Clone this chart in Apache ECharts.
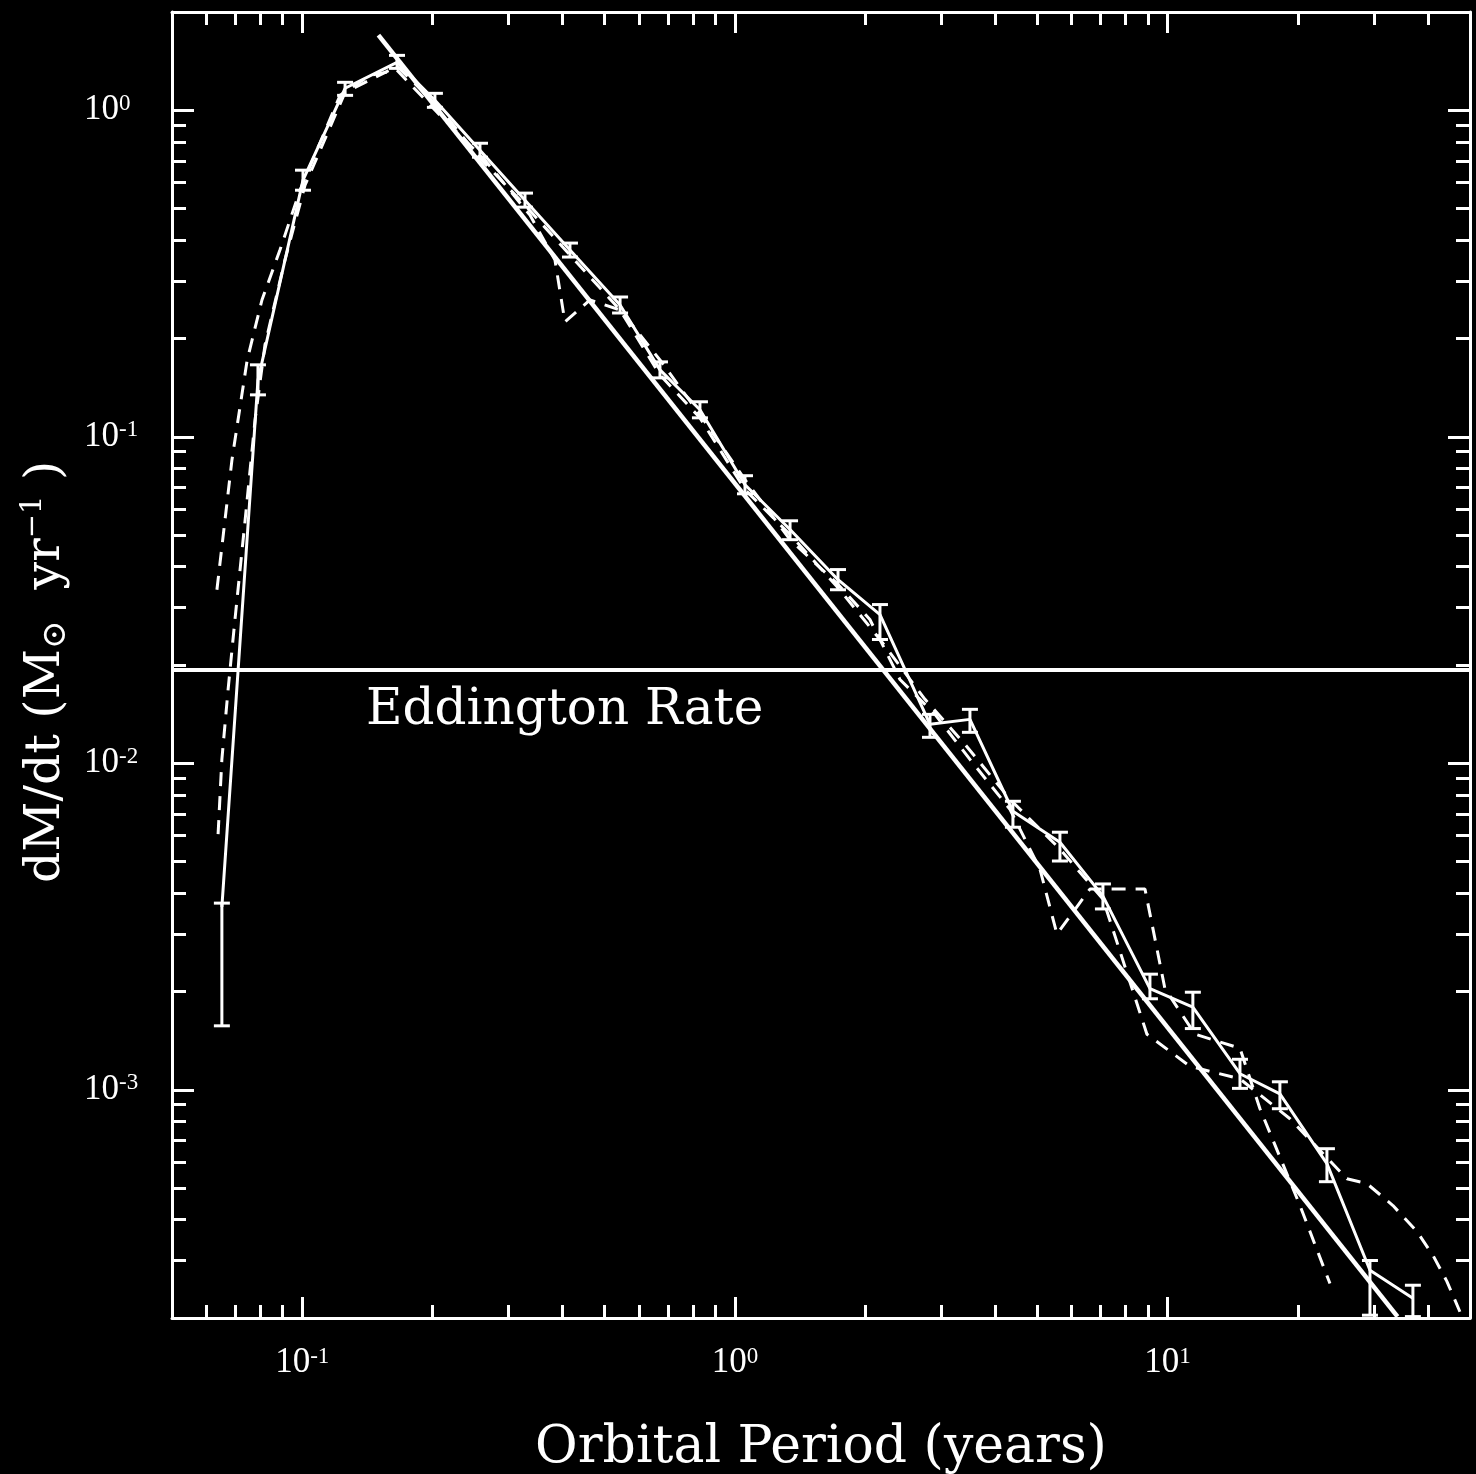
<!DOCTYPE html>
<html><head><meta charset="utf-8">
<script src="https://cdn.jsdelivr.net/npm/echarts@6/dist/echarts.min.js"></script>
<style>html,body{margin:0;padding:0;background:#000}#c{width:1476px;height:1474px}</style>
</head><body><div id="c"></div>
<script>
// ---- axis ranges & ticks ----
const xRange = [0.05, 50];
const yRange = [0.0002, 2];
const xMajorTicks = [0.1, 1, 10];
const xMinorTicks = [0.06,0.07,0.08,0.09,0.2,0.3,0.4,0.5,0.6,0.7,0.8,0.9,2,3,4,5,6,7,8,9,20,30,40];
const yMajorTicks = [0.001, 0.01, 0.1, 1];
const yMinorTicks = [0.0003,0.0004,0.0005,0.0006,0.0007,0.0008,0.0009,
  0.002,0.003,0.004,0.005,0.006,0.007,0.008,0.009,
  0.02,0.03,0.04,0.05,0.06,0.07,0.08,0.09,
  0.2,0.3,0.4,0.5,0.6,0.7,0.8,0.9];

// ---- Eddington rate ----
const eddingtonRate = 0.0193;

// ---- main run (solid, with error bars) ----
const s1Period = [0.0652,0.0790,0.1004,0.1256,0.1656,0.2026,0.2575,0.3272,0.4157,0.5427,0.6711,0.8302,1.055,1.341,1.731,2.164,2.824,3.493,4.391,5.639,7.089,9.104,11.44,14.70,18.18,23.35,29.36,36.90];
const s1Rate   = [0.00363,0.149,0.611,1.168,1.402,1.073,0.7545,0.5306,0.3731,0.2533,0.1603,0.121,0.0713,0.0520,0.0365,0.02855,0.01316,0.01363,0.00713,0.00573,0.00392,0.00204,0.00179,0.00112,0.000972,0.000594,0.000280,0.000230];
const s1Low    = [0.00157,0.1344,0.5691,1.111,1.344,1.021,0.7183,0.505,0.3552,0.2394,0.1515,0.1143,0.0669,0.0484,0.0340,0.02394,0.01201,0.01244,0.00637,0.00502,0.00358,0.00190,0.00154,0.00101,0.000875,0.000523,0.000204,0.000202];
const s1High   = [0.00373,0.1661,0.6555,1.218,1.473,1.127,0.7926,0.5576,0.392,0.268,0.1696,0.128,0.0760,0.0553,0.0392,0.03063,0.01412,0.01463,0.00765,0.00615,0.00427,0.00226,0.00199,0.00124,0.001058,0.000660,0.000300,0.000252];

// ---- dashed run 1 ----
const d1Period = [0.0635,0.0688,0.0746,0.0807,0.0888,0.0988,0.1223,0.1434,0.1656,0.2082,0.2645,0.3360,0.3838,0.4047,0.4624,0.5427,0.6711,0.8302,1.055,1.341,1.731,2.051,2.407,2.900,3.493,4.322,5.070,5.550,6.616,8.866,9.861,11.57,14.70,16.35,20.23,23.73];
const d1Rate   = [0.0340,0.0851,0.1719,0.2624,0.3731,0.5691,1.111,1.280,1.326,0.9654,0.7032,0.4776,0.3478,0.2247,0.2624,0.2445,0.1719,0.1168,0.0739,0.0484,0.0353,0.02756,0.01806,0.01412,0.01028,0.00723,0.00474,0.00300,0.00412,0.00412,0.00204,0.00148,0.00134,0.000875,0.000442,0.000255];

// ---- dashed run 2 ----
const d2Period = [0.0639,0.0652,0.0674,0.0699,0.0738,0.0778,0.0820,0.0912,0.1015,0.1256,0.1656,0.2082,0.2575,0.3272,0.4157,0.5427,0.6711,0.8302,1.055,1.341,1.731,2.164,2.750,3.402,4.322,5.639,7.089,8.960,11.26,14.70,19.18,25.97,28.89,33.18,37.70,41.06,44.21,47.39];
const d2Rate   = [0.00607,0.01028,0.01684,0.02756,0.0557,0.1127,0.1911,0.3478,0.5898,1.135,1.363,1.014,0.7131,0.5122,0.3602,0.2445,0.1547,0.1143,0.0689,0.0502,0.0345,0.02394,0.01570,0.01143,0.00776,0.00546,0.00384,0.00148,0.00118,0.00108,0.000815,0.000534,0.000516,0.000442,0.000368,0.000311,0.000259,0.000209];

// ---- t^(-5/3) fallback line ----
const fitPeriod = [0.150, 34.0];
const fitRate   = [1.70, 0.000202];

const zip = (a, b) => a.map((v, i) => [v, b[i]]);
const WHITE = '#ffffff';
const SERIF = '"DejaVu Serif", "Liberation Serif", serif';
const TICKFONT = '"Liberation Serif", "DejaVu Serif", serif';

function expLabel(v) {
  const e = Math.round(Math.log10(v));
  return '{b|10}{s|' + (e < 0 ? '-' + (-e) : e) + '}';
}
const labelRich = {
  b: { color: WHITE, fontSize: 35, fontFamily: TICKFONT, lineHeight: 36 },
  s: { color: WHITE, fontSize: 23, fontFamily: TICKFONT, lineHeight: 22, verticalAlign: 'top' }
};

function xAxisDef(position, ticks, len, showLine, showLabel) {
  return {
    type: 'log', position: position, min: xRange[0], max: xRange[1], logBase: 10,
    axisLine: { show: showLine, lineStyle: { color: WHITE, width: 3 } },
    axisTick: { show: true, inside: true, length: len, customValues: ticks, lineStyle: { color: WHITE, width: 3 } },
    axisLabel: showLabel ? { show: true, customValues: xMajorTicks, formatter: expLabel, margin: 27, rich: labelRich } : { show: false },
    splitLine: { show: false }, minorTick: { show: false }
  };
}
function yAxisDef(position, ticks, len, showLine, showLabel) {
  return {
    type: 'log', position: position, min: yRange[0], max: yRange[1], logBase: 10,
    axisLine: { show: showLine, lineStyle: { color: WHITE, width: 3 } },
    axisTick: { show: true, inside: true, length: len, customValues: ticks, lineStyle: { color: WHITE, width: 3 } },
    axisLabel: showLabel ? { show: true, customValues: yMajorTicks, formatter: expLabel, margin: 88, align: 'left', rich: labelRich } : { show: false },
    splitLine: { show: false }, minorTick: { show: false }
  };
}

const xAxes = [
  xAxisDef('bottom', xMajorTicks, 21, true, true),
  xAxisDef('bottom', xMinorTicks, 13, false, false),
  xAxisDef('top', xMajorTicks, 21, true, false),
  xAxisDef('top', xMinorTicks, 13, false, false)
];
Object.assign(xAxes[0], {
  name: 'Orbital Period (years)', nameLocation: 'middle', nameGap: 104,
  nameTextStyle: { color: WHITE, fontSize: 52, fontFamily: SERIF }
});
const yAxes = [
  yAxisDef('left', yMajorTicks, 22, true, true),
  yAxisDef('left', yMinorTicks, 14, false, false),
  yAxisDef('right', yMajorTicks, 22, true, false),
  yAxisDef('right', yMinorTicks, 14, false, false)
];
Object.assign(yAxes[0], {
  name: '{t|dM/dt (M}{sub|\u2299}{t|  yr}{sup|\u22121}{t| )}',
  nameLocation: 'middle', nameRotate: 90, nameGap: 98,
  nameTextStyle: {
    color: WHITE, padding: [0, 14, 0, 0],
    rich: {
      t: { color: WHITE, fontSize: 49, fontFamily: SERIF, lineHeight: 54 },
      sub: { color: WHITE, fontSize: 34, fontFamily: SERIF, lineHeight: 34, verticalAlign: 'bottom' },
      sup: { color: WHITE, fontSize: 29, fontFamily: SERIF, lineHeight: 29, verticalAlign: 'top' }
    }
  }
});

function errorBarItem(params, api) {
  const x = api.value(0), lo = api.value(1), hi = api.value(2);
  const a = api.coord([x, lo]);
  const b = api.coord([x, hi]);
  const w = 8;
  const st = { stroke: WHITE, lineWidth: 3 };
  return {
    type: 'group',
    children: [
      { type: 'line', shape: { x1: a[0], y1: a[1], x2: b[0], y2: b[1] }, style: st },
      { type: 'line', shape: { x1: a[0] - w, y1: a[1], x2: a[0] + w, y2: a[1] }, style: st },
      { type: 'line', shape: { x1: b[0] - w, y1: b[1], x2: b[0] + w, y2: b[1] }, style: st }
    ]
  };
}

const chart = echarts.init(document.getElementById('c'), null, { renderer: 'canvas' });
chart.setOption({
  backgroundColor: '#000000',
  animation: false,
  grid: { left: 172, right: 6, top: 12, bottom: 156, containLabel: false, outerBoundsMode: 'none' },
  xAxis: xAxes,
  yAxis: yAxes,
  graphic: [{
    type: 'text', left: 366, top: 686,
    style: { text: 'Eddington Rate', fill: WHITE, fontSize: 50, fontFamily: SERIF }
  }],
  series: [
    { type: 'line', name: 'Eddington', data: [[xRange[0], eddingtonRate], [xRange[1], eddingtonRate]],
      showSymbol: false, lineStyle: { color: WHITE, width: 4 }, z: 3 },
    { type: 'line', name: 'fit', data: zip(fitPeriod, fitRate), showSymbol: false,
      lineStyle: { color: WHITE, width: 4.5 }, z: 3 },
    { type: 'line', name: 'run1', data: zip(s1Period, s1Rate), showSymbol: false,
      lineStyle: { color: WHITE, width: 3 }, z: 4 },
    { type: 'custom', name: 'run1 err', renderItem: errorBarItem,
      data: s1Period.map((p, i) => [p, s1Low[i], s1High[i]]), encode: { x: 0, y: [1, 2] }, z: 5 },
    { type: 'line', name: 'run2', data: zip(d1Period, d1Rate), showSymbol: false,
      lineStyle: { color: WHITE, width: 3, type: [14, 10] }, z: 4 },
    { type: 'line', name: 'run3', data: zip(d2Period, d2Rate), showSymbol: false,
      lineStyle: { color: WHITE, width: 3, type: [14, 10] }, z: 4 }
  ]
});
</script></body></html>
